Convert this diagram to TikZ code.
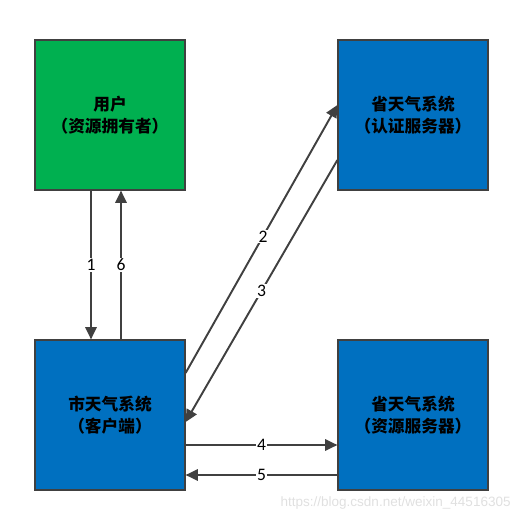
\documentclass[tikz,border=0pt]{standalone}
\usepackage{xcolor}
\usepackage{fontspec}
\usepackage{tikz}
\usetikzlibrary{arrows.meta,calc}
\newfontfamily\cjk{Noto Sans CJK SC}
\setmainfont{Carlito}
\newfontfamily\wmfont{Liberation Sans}
\definecolor{boxgreen}{HTML}{00B050}
\definecolor{boxblue}{HTML}{0070C0}
\definecolor{edge}{HTML}{404040}

\begin{document}
\begin{tikzpicture}[x=0.02cm,y=-0.02cm,
	party/.style={draw=edge,line width=0.7pt,minimum width=3cm,minimum height=3cm,
		align=center,font=\cjk\bfseries\fontsize{9.5}{12.5}\selectfont,inner sep=0pt},
	msg/.style={draw=edge,line width=1.1pt,-{Triangle[length=7pt,width=6.5pt]}},
	num/.style={fill=white,inner sep=0.6pt,font=\fontsize{10}{11}\selectfont}]
	\useasboundingbox (0,0) rectangle (523,523);

	\path (110,115) node[party,fill=boxgreen] (user) {用户\\（资源拥有者）};
	\path (413,115) node[party,fill=boxblue] (auth) {省天气系统\\（认证服务器）};
	\path (110,415) node[party,fill=boxblue] (client) {市天气系统\\（客户端）};
	\path (413,415) node[party,fill=boxblue] (res) {省天气系统\\（资源服务器）};

	% user <-> client
	\draw[msg] ($(user.south)+(-19,0)$) -- node[num] {1} ($(client.north)+(-19,0)$);
	\draw[msg] ($(client.north)+(11,0)$) -- node[num] {6} ($(user.south)+(11,0)$);

	% client <-> auth
	\draw[msg] ($(client.east)+(0,-42)$) -- node[num,pos=0.51] {2} ($(auth.west)+(0,-10)$);
	\draw[msg] ($(auth.west)+(0,45)$) -- node[num,pos=0.5] {3} ($(client.east)+(0,7)$);

	% client <-> res
	\draw[msg] ($(client.east)+(0,30)$) -- node[num] {4} ($(res.west)+(0,30)$);
	\draw[msg] ($(res.west)+(0,60)$) -- node[num] {5} ($(client.east)+(0,60)$);

	\path (511,503) node[anchor=east,inner sep=0pt,text=black!12,font=\wmfont\fontsize{7.7}{9}\selectfont] (mark) {https://blog.csdn.net/weixin\_44516305};
\end{tikzpicture}
\end{document}
